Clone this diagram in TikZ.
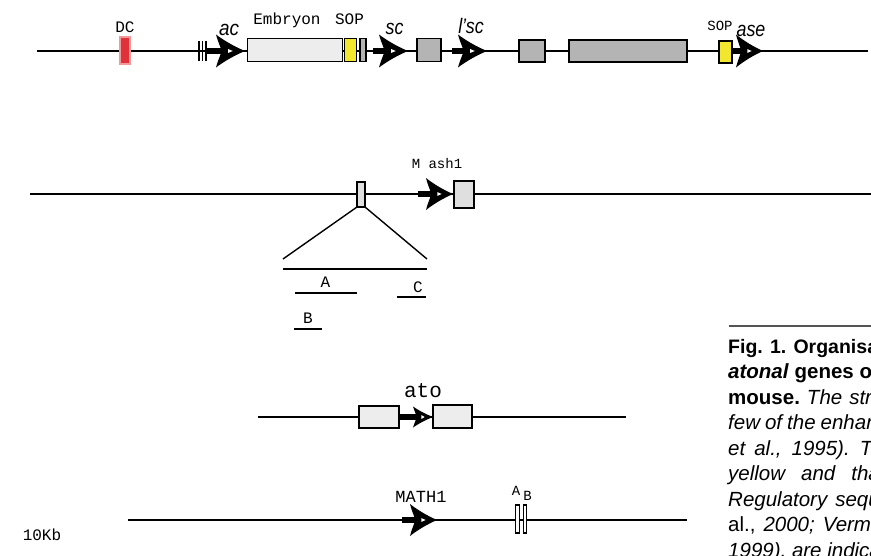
\documentclass[tikz,border=0pt]{standalone}
\usepackage{fontspec}
\setmainfont{Liberation Sans}
\newfontfamily\courfont{Liberation Mono}
\definecolor{boxlight}{HTML}{EDEDED}
\definecolor{boxmash}{HTML}{DFDFDF}
\definecolor{boxgray}{HTML}{B4B4B4}
\definecolor{sopyellow}{HTML}{F2E62E}
\definecolor{dcred}{HTML}{E0323A}
\definecolor{dcedge}{HTML}{F29A9A}
\definecolor{rulegray}{HTML}{555555}
% #1 shaft start, #2 tip x, #3 y, #4 half height, #5 head length
\newcommand\geneArrow[5]{%
  \fill (#1,#3-2.7) rectangle (#2-0.6*#5,#3+2.7);
  \fill (#2,#3) .. controls (#2-0.35*#5,#3-0.26*#4) and (#2-0.7*#5,#3-0.6*#4) .. (#2-#5,#3-#4)
     .. controls (#2-0.95*#5,#3-0.65*#4) and (#2-0.86*#5,#3-0.3*#4) .. (#2-0.8*#5,#3)
     .. controls (#2-0.86*#5,#3+0.3*#4) and (#2-0.95*#5,#3+0.65*#4) .. (#2-#5,#3+#4)
     .. controls (#2-0.7*#5,#3+0.6*#4) and (#2-0.35*#5,#3+0.26*#4) .. cycle;
  \fill[white] (#2-0.42*#5,#3) -- (#2-0.58*#5,#3-1.9) -- (#2-0.58*#5,#3+1.9) -- cycle;
}
\tikzset{
  dna/.style={line width=2pt},
  thinline/.style={line width=1.4pt},
  exon/.style={draw, line width=1.4pt, inner sep=0pt, outer sep=0pt, rectangle},
  mono/.style={font=\courfont\fontsize{16}{18}\selectfont, inner sep=0pt, anchor=base},
  monosmall/.style={font=\courfont\fontsize{14}{16}\selectfont, inner sep=0pt, anchor=base},
  gname/.style={font=\itshape\fontsize{21}{23}\selectfont, inner sep=0pt, anchor=base},
  capline/.style={font=\fontsize{20.5}{25.5}\selectfont, inner sep=0pt, anchor=base west},
}
\begin{document}
\begin{tikzpicture}[x=1pt,y=-1pt]
\useasboundingbox (0,0) rectangle (871,555);

% ---------- line 1: achaete-scute complex ----------
\coordinate (l1a) at (37,51);
\coordinate (l1b) at (868,51);
\draw[dna] (l1a) -- (l1b);
\node[exon, fill=dcred, draw=dcedge, minimum width=10pt, minimum height=27pt] (dc) at (125,50.5) {};
\node[mono] (dclab) at (125,32.5) {DC};
\draw[thinline] (199,41) -- (199,61) (202.5,41) -- (202.5,61) (206,41) -- (206,61);
\geneArrow{206}{245}{51}{16.5}{29}
\node[gname] (aclab) at (229,35) {\scalebox{0.9}[1]{ac}};
\node[exon, fill=boxlight, minimum width=95pt, minimum height=23pt] (emb) at (295,49.7) {};
\node[exon, fill=sopyellow, minimum width=12pt, minimum height=23pt] (sop1) at (350.5,49.7) {};
\node[exon, fill=boxgray, minimum width=6pt, minimum height=23pt] (sm1) at (363,49.7) {};
\node[mono] (emblab) at (287,24.5) {Embryon};
\node[mono] (soplab1) at (349.5,24.5) {SOP};
\geneArrow{373}{408}{51}{16.5}{29}
\node[gname] (sclab) at (394.5,34) {\scalebox{0.85}[1]{sc}};
\node[exon, fill=boxgray, minimum width=24pt, minimum height=23pt] (g1) at (429,49.7) {};
\geneArrow{452}{487}{51}{16.5}{29}
\node[gname] (lsclab) at (471,33.5) {\scalebox{0.85}[1]{l'sc}};
\node[exon, fill=boxgray, minimum width=26pt, minimum height=22pt] (g2) at (532,51) {};
\node[exon, fill=boxgray, minimum width=118pt, minimum height=22pt] (g3) at (628,51) {};
\node[exon, fill=sopyellow, minimum width=13pt, minimum height=22pt] (sop2) at (725.5,52) {};
\geneArrow{732}{763}{51}{16.5}{27}
\node[monosmall] (soplab2) at (720,30) {SOP};
\node[gname] (aselab) at (751,36) {\scalebox{0.85}[1]{ase}};

% ---------- line 2: Mash1 ----------
\coordinate (l2a) at (30,194);
\coordinate (l2b) at (871,194);
\draw[dna] (l2a) -- (l2b);
\node[exon, fill=boxmash, minimum width=8pt, minimum height=25pt] (menh) at (361,194.5) {};
\geneArrow{418}{453}{194}{16}{27}
\node[exon, fill=boxmash, minimum width=20pt, minimum height=27pt] (mash) at (464,194.5) {};
\node[monosmall] (mashlab) at (437,168) {M ash1};
\coordinate (tl) at (283,259);
\coordinate (tr) at (427,259);
\draw[thinline] (menh.south west) -- (tl);
\draw[thinline] (menh.south east) -- (tr);
\coordinate (hl) at (283,269);
\coordinate (hr) at (427,269);
\draw[thinline] (hl) -- (hr);
\coordinate (al) at (295,293);
\coordinate (ar) at (357,293);
\draw[thinline] (al) -- (ar);
\node[mono] (alab) at (325.5,287) {A};
\coordinate (cl) at (397,297);
\coordinate (cr) at (426,297);
\draw[thinline] (cl) -- (cr);
\node[mono] (clab) at (418,292) {C};
\coordinate (bl) at (294,329);
\coordinate (br) at (322,329);
\draw[thinline] (bl) -- (br);
\node[mono] (blab) at (308,323) {B};

% ---------- line 3: ato ----------
\coordinate (l3a) at (258,417);
\coordinate (l3b) at (626,417);
\draw[dna] (l3a) -- (l3b);
\node[exon, fill=boxlight, minimum width=40pt, minimum height=22pt] (ato1) at (379,417) {};
\node[exon, fill=boxlight, minimum width=39pt, minimum height=23pt] (ato2) at (452.5,416.5) {};
\geneArrow{399}{433}{417}{10.5}{20}
\node[font=\courfont\fontsize{21}{23}\selectfont, inner sep=0pt, anchor=base] (atolab) at (423,397) {ato};

% ---------- line 4: MATH1 ----------
\coordinate (l4a) at (128,520);
\coordinate (l4b) at (687,520);
\draw[dna] (l4a) -- (l4b);
\geneArrow{402}{437}{520}{16}{27}
\node[font=\courfont\fontsize{17}{19}\selectfont, inner sep=0pt, anchor=base] (mathlab) at (421,502) {MATH1};
\node[exon, fill=white, line width=1.1pt, minimum width=3.5pt, minimum height=28pt] (ea) at (517.5,519) {};
\node[exon, fill=white, line width=1.1pt, minimum width=3.5pt, minimum height=28pt] (eb) at (525,519) {};
\node[monosmall] (ealab) at (516,495) {A};
\node[monosmall] (eblab) at (527.5,500) {B};
\node[mono] (kblab) at (42,540) {10Kb};

% ---------- caption ----------
\coordinate (rl) at (729,326);
\coordinate (rr) at (871,326);
\draw[rulegray, line width=1.2pt] (rl) -- (rr);
\begin{scope}
\clip (700,300) rectangle (871,555);
\node[capline, font=\fontsize{19.5}{25.5}\selectfont] (c1) at (728,353) {\textbf{Fig. 1. Organisation}};
\node[capline] (c2) at (728,378.5) {\textbf{\textit{atonal} genes of}};
\node[capline] (c3) at (728,404) {\textbf{mouse.}\hspace{7pt}\textit{The\hspace{7pt}structure}};
\node[capline] (c4) at (728,429.5) {\textit{few\hspace{5pt}of\hspace{5pt}the\hspace{5pt}enhancers}};
\node[capline] (c5) at (728,455) {\textit{et\hspace{9pt}al.,\hspace{10pt}1995).\hspace{10pt}The}};
\node[capline] (c6) at (728,480.5) {\textit{yellow\hspace{16pt}and\hspace{16pt}that}};
\node[capline] (c7) at (728,506) {\textit{Regulatory\hspace{8pt}sequences}};
\node[capline] (c8) at (728,531.5) {al.,\hspace{8pt}\textit{2000;\hspace{8pt}Vermot}};
\node[capline] (c9) at (728,557) {\textit{1999), are indicated}};
\end{scope}
\end{tikzpicture}
\end{document}
